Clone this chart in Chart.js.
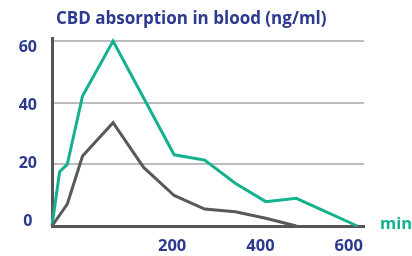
<!DOCTYPE html>
<html>
<head>
<meta charset="utf-8">
<script src="https://cdn.jsdelivr.net/npm/chart.js@4"></script>
<style>
  html, body { margin: 0; padding: 0; background: #fff; }
  #wrap { width: 412px; height: 256px; }
</style>
</head>
<body>
<div id="wrap"><canvas id="chart"></canvas></div>
<script>
// ---------- DATA ----------
const titleText = "CBD absorption in blood (ng/ml)";
const unitText = "min";

const greenTimes = [0, 15, 30, 60, 120, 240, 300, 360, 420, 480, 600];
const greenValues = [0, 17.6, 20, 42.2, 60, 23.1, 21.4, 13.9, 7.9, 9, 0];

const grayTimes = [0, 30, 60, 120, 180, 240, 300, 360, 420, 480];
const grayValues = [0, 7.1, 22.7, 33.5, 19, 9.9, 5.5, 4.6, 2.5, 0];

const xTickLabels = [200, 400, 600];
const yTickLabels = [0, 20, 40, 60];

// ---------- STYLE ----------
const FONT = "Open Sans";
const BLUE = "#2b3a8f";
const GREEN = "#14b18f";
const GRAY = "#58595b";
const AXIS = "#555555";
const GRID = "#bdbdbd";

function points(times, values) {
  return times.map((t, i) => ({ x: t, y: values[i] }));
}

function setTicks(list) {
  return scale => { scale.ticks = list.map(v => ({ value: v })); };
}

// title + unit label
const textPlugin = {
  id: "texts",
  afterDraw(chart) {
    const ctx = chart.ctx;
    const area = chart.chartArea;
    ctx.save();
    ctx.textBaseline = "alphabetic";
    ctx.textAlign = "left";
    ctx.fillStyle = BLUE;
    ctx.font = "bold 17px '" + FONT + "'";
    ctx.fillText(titleText, 56, 23.5);
    ctx.fillStyle = GREEN;
    ctx.font = "bold 16.5px '" + FONT + "'";
    ctx.fillText(unitText, area.right + 16, 228.5);
    ctx.restore();
  }
};

new Chart(document.getElementById("chart"), {
  type: "line",
  data: {
    datasets: [
      {
        data: points(grayTimes, grayValues),
        borderColor: GRAY,
        borderWidth: 3,
        pointRadius: 0,
        tension: 0,
        clip: false
      },
      {
        data: points(greenTimes, greenValues),
        borderColor: GREEN,
        borderWidth: 3,
        pointRadius: 0,
        tension: 0,
        clip: false
      }
    ]
  },
  options: {
    responsive: true,
    maintainAspectRatio: false,
    animation: false,
    layout: { padding: { top: 38, left: 0, right: 48, bottom: 0 } },
    plugins: {
      legend: { display: false },
      tooltip: { enabled: false },
      title: { display: false }
    },
    scales: {
      x: {
        type: "linear",
        position: "bottom",
        min: 0,
        max: 613,
        weight: 0,
        grid: { display: false, drawTicks: false },
        border: { display: true, color: AXIS, width: 3 },
        ticks: { display: false }
      },
      xLab: {
        type: "linear",
        position: "bottom",
        min: -72,
        max: 634.5,
        weight: 1,
        afterBuildTicks: setTicks(xTickLabels),
        afterFit: s => { s.height = 30; },
        grid: { display: false, drawTicks: false },
        border: { display: false },
        ticks: {
          color: BLUE,
          padding: 10,
          maxRotation: 0,
          font: { family: FONT, weight: "bold", size: 16.5 }
        }
      },
      y: {
        type: "linear",
        position: "left",
        min: 0,
        max: 61,
        weight: 0,
        afterBuildTicks: setTicks(yTickLabels),
        grid: {
          drawTicks: false,
          lineWidth: 2,
          color: c => (c.tick && c.tick.value === 0 ? "rgba(0,0,0,0)" : GRID)
        },
        border: { display: true, color: AXIS, width: 3 },
        ticks: { display: false }
      },
      yLab: {
        type: "linear",
        position: "left",
        min: -1.73,
        max: 63.3,
        weight: 1,
        afterBuildTicks: setTicks(yTickLabels),
        afterFit: s => { s.width = 52; },
        grid: { display: false, drawTicks: false },
        border: { display: false },
        ticks: {
          color: BLUE,
          padding: 15,
          crossAlign: "center",
          font: { family: FONT, weight: "bold", size: 16 }
        }
      }
    }
  },
  plugins: [textPlugin]
});
</script>
</body>
</html>
